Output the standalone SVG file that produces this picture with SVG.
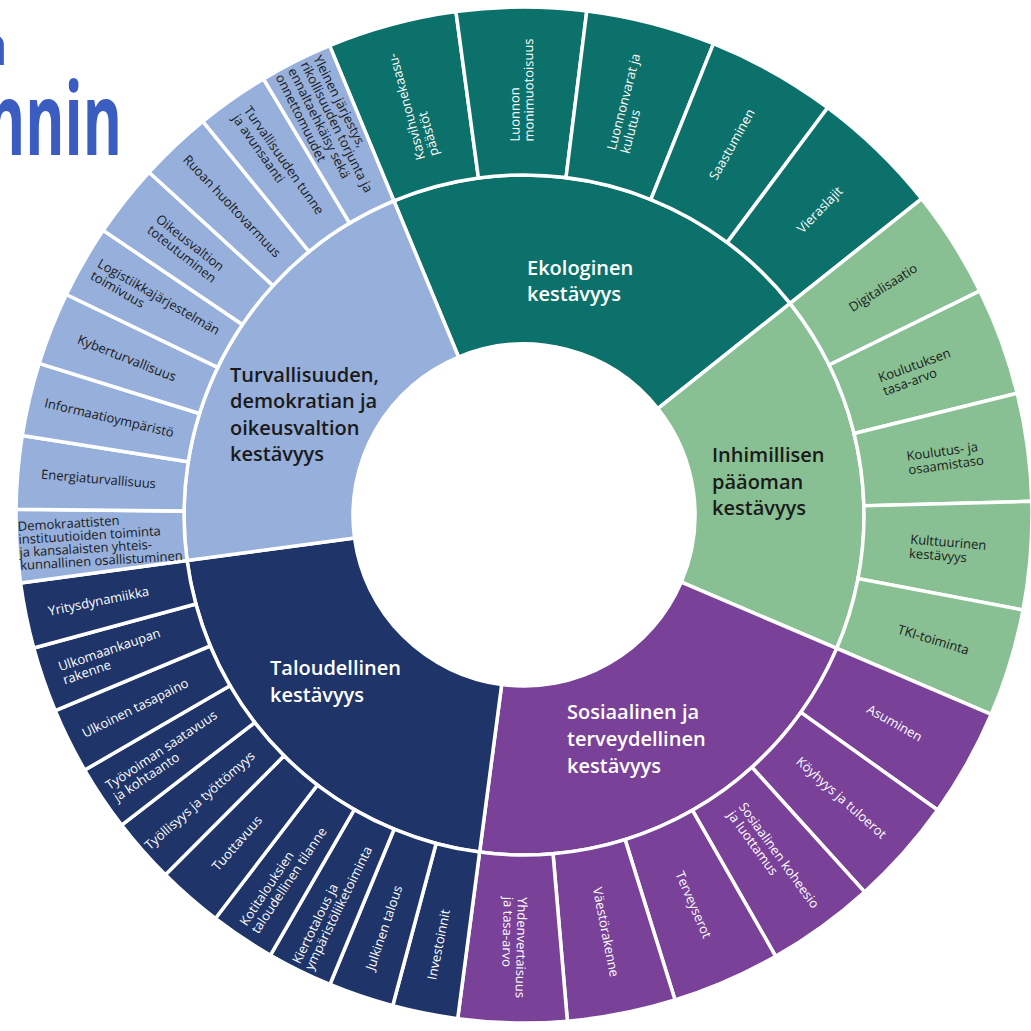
<svg xmlns="http://www.w3.org/2000/svg" xmlns:xlink="http://www.w3.org/1999/xlink" width="1031" height="1031" viewBox="0 0 1031 1031">
<style>
.seg{stroke:#fff;stroke-width:3.5;stroke-linejoin:miter}
.ek{fill:#0d716b}.inh{fill:#88c093}.sos{fill:#7a4198}.tal{fill:#1f3468}.tur{fill:#96afdb}
.t{font-family:"Open Sans","Noto Sans","DejaVu Sans",sans-serif;font-size:13px}
.w{fill:#ffffff}.b{fill:#1a1a1a}
.m{text-anchor:middle}
.h{font-family:"Open Sans","Noto Sans","DejaVu Sans",sans-serif;font-size:20px;font-weight:600}
.title{font-family:"Open Sans","Noto Sans","DejaVu Sans",sans-serif;font-weight:700;fill:#3b5cc0}
</style>
<defs>
<path id="ekI" d="M0,-340 A340,340 0 0 1 326.83,-93.72 L164.38,-47.13 A171,171 0 0 0 0,-171 Z"/>
<path id="inI" d="M0,-340 A340,340 0 0 1 299.08,-161.71 L150.42,-81.33 A171,171 0 0 0 0,-171 Z"/>
<path id="soI" d="M0,-340 A340,340 0 0 1 327.47,-91.43 L164.70,-45.99 A171,171 0 0 0 0,-171 Z"/>
<path id="taI" d="M0,-340 A340,340 0 0 1 328.11,-89.14 L165.02,-44.83 A171,171 0 0 0 0,-171 Z"/>
<path id="tuI" d="M0,-340 A340,340 0 0 1 328.72,-86.85 L165.33,-43.68 A171,171 0 0 0 0,-171 Z"/>
<path id="ekL" d="M0,-508 A508,508 0 0 1 129.77,-491.14 L86.85,-328.72 A340,340 0 0 0 0,-340 Z"/>
<path id="inL" d="M0,-508 A508,508 0 0 1 108.39,-496.30 L72.55,-332.17 A340,340 0 0 0 0,-340 Z"/>
<path id="soL" d="M0,-508 A508,508 0 0 1 109.09,-496.15 L73.01,-332.07 A340,340 0 0 0 0,-340 Z"/>
<path id="taL" d="M0,-508 A508,508 0 0 1 66.13,-503.68 L44.26,-337.11 A340,340 0 0 0 0,-340 Z"/>
<path id="tuL" d="M0,-508 A508,508 0 0 1 73.82,-502.61 L49.41,-336.39 A340,340 0 0 0 0,-340 Z"/>
<clipPath id="clipDemo"><path d="M0,-508 A508,508 0 0 1 73.82,-502.61 L49.41,-336.39 A340,340 0 0 0 0,-340 Z" transform="translate(524 515) rotate(262.3)"/></clipPath>
</defs>
<rect width="1031" height="1031" fill="#fff"/>

<g id="title">
<text class="title" x="8" y="65" font-size="55" text-anchor="end">a</text>
<text class="title" x="-14" y="155" font-size="100" textLength="136" lengthAdjust="spacingAndGlyphs">nnin</text>
</g>

<g id="connectors"/>

<!-- Ekologinen -->
<g id="ekologinen">
<use href="#ekI" class="seg ek" transform="translate(524 515) rotate(-22.5)"/>
<text class="h w" x="527" y="274.5">Ekologinen<tspan x="527" y="300.5">kestävyys</tspan></text>
</g>
<g id="ek-kasvihuone"><use href="#ekL" class="seg ek" transform="translate(524 515) rotate(-22.5)"/>
<text class="t w" transform="translate(524 515) rotate(-15.1) translate(0 -425) rotate(-90)"><tspan x="-55" y="-2.5">Kasvihuonekaasu-</tspan><tspan x="-55" y="11.5">päästöt</tspan></text></g>
<g id="ek-luonnon"><use href="#ekL" class="seg ek" transform="translate(524 515) rotate(-7.7)"/>
<text class="t w" transform="translate(524 515) rotate(-0.3) translate(0 -425) rotate(-90)"><tspan x="-51.5" y="-2.5">Luonnon</tspan><tspan x="-51.5" y="11.5">monimuotoisuus</tspan></text></g>
<g id="ek-luonnonvarat"><use href="#ekL" class="seg ek" transform="translate(524 515) rotate(7.1)"/>
<text class="t w" transform="translate(524 515) rotate(14.5) translate(0 -425) rotate(-90)"><tspan x="-49.5" y="-2.5">Luonnonvarat ja</tspan><tspan x="-49.5" y="11.5">kulutus</tspan></text></g>
<g id="ek-saastuminen"><use href="#ekL" class="seg ek" transform="translate(524 515) rotate(21.9)"/>
<text class="t w m" transform="translate(524 515) rotate(29.3) translate(0 -425) rotate(-90)" y="4.5">Saastuminen</text></g>
<g id="ek-vieraslajit"><use href="#ekL" class="seg ek" transform="translate(524 515) rotate(36.7)"/>
<text class="t w m" transform="translate(524 515) rotate(44.1) translate(0 -425) rotate(-90)" y="4.5">Vieraslajit</text></g>

<!-- Inhimillisen -->
<g id="inhimillisen">
<use href="#inI" class="seg inh" transform="translate(524 515) rotate(51.5)"/>
<text class="h b" x="712" y="462">Inhimillisen<tspan x="712" y="488.5">pääoman</tspan><tspan x="712" y="515">kestävyys</tspan></text>
</g>
<g id="in-digitalisaatio"><use href="#inL" class="seg inh" transform="translate(524 515) rotate(51.5)"/>
<text class="t b m" transform="translate(524 515) rotate(57.66) translate(0 -425) rotate(-90)" y="4.5">Digitalisaatio</text></g>
<g id="in-koulutuksen"><use href="#inL" class="seg inh" transform="translate(524 515) rotate(63.82)"/>
<text class="t b" transform="translate(524 515) rotate(69.98) translate(0 -418) rotate(-90)"><tspan x="-38" y="-2.5">Koulutuksen</tspan><tspan x="-38" y="11.5">tasa-arvo</tspan></text></g>
<g id="in-koulutus"><use href="#inL" class="seg inh" transform="translate(524 515) rotate(76.14)"/>
<text class="t b" transform="translate(524 515) rotate(82.3) translate(0 -425) rotate(-90)"><tspan x="-38" y="-2.5">Koulutus- ja</tspan><tspan x="-38" y="11.5">osaamistaso</tspan></text></g>
<g id="in-kulttuurinen"><use href="#inL" class="seg inh" transform="translate(524 515) rotate(88.46)"/>
<text class="t b" transform="translate(524 515) rotate(94.62) translate(0 -425) rotate(-90)"><tspan x="-38" y="-2.5">Kulttuurinen</tspan><tspan x="-38" y="11.5">kestävyys</tspan></text></g>
<g id="in-tki"><use href="#inL" class="seg inh" transform="translate(524 515) rotate(100.78)"/>
<text class="t b m" transform="translate(524 515) rotate(106.94) translate(0 -428) rotate(-90)" y="4.5">TKI-toiminta</text></g>

<!-- Sosiaalinen -->
<g id="sosiaalinen">
<use href="#soI" class="seg sos" transform="translate(524 515) rotate(113.1)"/>
<text class="h w" x="567" y="719">Sosiaalinen ja<tspan x="567" y="746">terveydellinen</tspan><tspan x="567" y="773">kestävyys</tspan></text>
</g>
<g id="so-asuminen"><use href="#soL" class="seg sos" transform="translate(524 515) rotate(113.1)"/>
<text class="t w m" transform="translate(524 515) rotate(119.3) translate(0 -425) rotate(-90)" y="4.5">Asuminen</text></g>
<g id="so-koyhyys"><use href="#soL" class="seg sos" transform="translate(524 515) rotate(125.5)"/>
<text class="t w m" transform="translate(524 515) rotate(131.7) translate(0 -425) rotate(-90)" y="4.5">Köyhyys ja tuloerot</text></g>
<g id="so-koheesio"><use href="#soL" class="seg sos" transform="translate(524 515) rotate(137.9)"/>
<text class="t w" transform="translate(524 515) rotate(144.1) translate(0 -425) rotate(-90)"><tspan x="-63" y="-2.5">Sosiaalinen koheesio</tspan><tspan x="-63" y="11.5">ja luottamus</tspan></text></g>
<g id="so-terveyserot"><use href="#soL" class="seg sos" transform="translate(524 515) rotate(150.3)"/>
<text class="t w m" transform="translate(524 515) rotate(156.5) translate(0 -425) rotate(-90)" y="4.5">Terveyserot</text></g>
<g id="so-vaestorakenne"><use href="#soL" class="seg sos" transform="translate(524 515) rotate(162.7)"/>
<text class="t w m" transform="translate(524 515) rotate(168.9) translate(0 -425) rotate(-90)" y="4.5">Väestörakenne</text></g>
<g id="so-yhdenvertaisuus"><use href="#soL" class="seg sos" transform="translate(524 515) rotate(175.1)"/>
<text class="t w" transform="translate(524 515) rotate(181.3) translate(0 -432) rotate(-90)"><tspan x="-50" y="-2.5">Yhdenvertaisuus</tspan><tspan x="-50" y="11.5">ja tasa-arvo</tspan></text></g>

<!-- Taloudellinen -->
<g id="taloudellinen">
<use href="#taI" class="seg tal" transform="translate(524 515) rotate(187.5)"/>
<text class="h w" x="270" y="675">Taloudellinen<tspan x="270" y="701.5">kestävyys</tspan></text>
</g>
<g id="ta-investoinnit"><use href="#taL" class="seg tal" transform="translate(524 515) rotate(187.5)"/>
<text class="t w m" transform="translate(524 515) rotate(191.24) translate(0 -438) rotate(90)" y="4.5">Investoinnit</text></g>
<g id="ta-julkinen"><use href="#taL" class="seg tal" transform="translate(524 515) rotate(194.98)"/>
<text class="t w m" transform="translate(524 515) rotate(198.72) translate(0 -436) rotate(90)" y="4.5">Julkinen talous</text></g>
<g id="ta-kiertotalous"><use href="#taL" class="seg tal" transform="translate(524 515) rotate(202.46)"/>
<text class="t w" transform="translate(524 515) rotate(206.2) translate(0 -432) rotate(90)"><tspan x="-70.5" y="-2.5">Kiertotalous ja</tspan><tspan x="-70.5" y="11.5">ympäristöliiketoiminta</tspan></text></g>
<g id="ta-kotitalouksien"><use href="#taL" class="seg tal" transform="translate(524 515) rotate(209.94)"/>
<text class="t w" transform="translate(524 515) rotate(213.68) translate(0 -434) rotate(90)"><tspan x="-62.5" y="-2.5">Kotitalouksien</tspan><tspan x="-62.5" y="11.5">taloudellinen tilanne</tspan></text></g>
<g id="ta-tuottavuus"><use href="#taL" class="seg tal" transform="translate(524 515) rotate(217.42)"/>
<text class="t w m" transform="translate(524 515) rotate(221.16) translate(0 -436) rotate(90)" y="4.5">Tuottavuus</text></g>
<g id="ta-tyollisyys"><use href="#taL" class="seg tal" transform="translate(524 515) rotate(224.9)"/>
<text class="t w m" transform="translate(524 515) rotate(228.64) translate(0 -432) rotate(90)" y="4.5">Työllisyys ja työttömyys</text></g>
<g id="ta-tyovoima"><use href="#taL" class="seg tal" transform="translate(524 515) rotate(232.38)"/>
<text class="t w" transform="translate(524 515) rotate(236.12) translate(0 -432) rotate(90)"><tspan x="-65.5" y="-2.5">Työvoiman saatavuus</tspan><tspan x="-65.5" y="11.5">ja kohtaanto</tspan></text></g>
<g id="ta-ulkoinen"><use href="#taL" class="seg tal" transform="translate(524 515) rotate(239.86)"/>
<text class="t w m" transform="translate(524 515) rotate(243.6) translate(0 -434) rotate(90)" y="4.5">Ulkoinen tasapaino</text></g>
<g id="ta-ulkomaankauppa"><use href="#taL" class="seg tal" transform="translate(524 515) rotate(247.34)"/>
<text class="t w" transform="translate(524 515) rotate(251.08) translate(0 -436) rotate(90)"><tspan x="-53.5" y="-2.5">Ulkomaankaupan</tspan><tspan x="-53.5" y="11.5">rakenne</tspan></text></g>
<g id="ta-yritysdynamiikka"><use href="#taL" class="seg tal" transform="translate(524 515) rotate(254.82)"/>
<text class="t w m" transform="translate(524 515) rotate(258.56) translate(0 -434) rotate(90)" y="4.5">Yritysdynamiikka</text></g>

<!-- Turvallisuuden -->
<g id="turvallisuuden">
<use href="#tuI" class="seg tur" transform="translate(524 515) rotate(262.3)"/>
<text class="h b" x="230" y="381.5">Turvallisuuden,<tspan x="230" y="408">demokratian ja</tspan><tspan x="230" y="434.5">oikeusvaltion</tspan><tspan x="230" y="461">kestävyys</tspan></text>
</g>
<g id="tu-demokraattisten"><use href="#tuL" class="seg tur" transform="translate(524 515) rotate(262.3)"/>
<g clip-path="url(#clipDemo)"><text class="t b" transform="translate(524 515) rotate(266.48) translate(0 -425) rotate(90)"><tspan x="-81" y="-15">Demokraattisten</tspan><tspan x="-81" y="-2">instituutioiden toiminta</tspan><tspan x="-81" y="11">ja kansalaisten yhteis-</tspan><tspan x="-81" y="24">kunnallinen osallistuminen</tspan></text></g></g>
<g id="tu-energia"><use href="#tuL" class="seg tur" transform="translate(524 515) rotate(270.656)"/>
<text class="t b m" transform="translate(524 515) rotate(274.83) translate(0 -427) rotate(90)" y="4.5">Energiaturvallisuus</text></g>
<g id="tu-informaatio"><use href="#tuL" class="seg tur" transform="translate(524 515) rotate(279.011)"/>
<text class="t b m" transform="translate(524 515) rotate(283.19) translate(0 -426) rotate(90)" y="4.5">Informaatioympäristö</text></g>
<g id="tu-kyber"><use href="#tuL" class="seg tur" transform="translate(524 515) rotate(287.367)"/>
<text class="t b m" transform="translate(524 515) rotate(291.55) translate(0 -427) rotate(90)" y="4.5">Kyberturvallisuus</text></g>
<g id="tu-logistiikka"><use href="#tuL" class="seg tur" transform="translate(524 515) rotate(295.722)"/>
<text class="t b" transform="translate(524 515) rotate(299.9) translate(0 -425) rotate(90)"><tspan x="-69.5" y="-2.5">Logistiikkajärjestelmän</tspan><tspan x="-69.5" y="11.5">toimivuus</tspan></text></g>
<g id="tu-oikeusvaltio"><use href="#tuL" class="seg tur" transform="translate(524 515) rotate(304.078)"/>
<text class="t b" transform="translate(524 515) rotate(308.26) translate(0 -428) rotate(90)"><tspan x="-44" y="-2.5">Oikeusvaltion</tspan><tspan x="-44" y="11.5">toteutuminen</tspan></text></g>
<g id="tu-ruoka"><use href="#tuL" class="seg tur" transform="translate(524 515) rotate(312.433)"/>
<text class="t b m" transform="translate(524 515) rotate(316.61) translate(0 -425) rotate(90)" y="4.5">Ruoan huoltovarmuus</text></g>
<g id="tu-turvallisuudentunne"><use href="#tuL" class="seg tur" transform="translate(524 515) rotate(320.789)"/>
<text class="t b" transform="translate(524 515) rotate(324.97) translate(0 -428) rotate(90)"><tspan x="-64.5" y="-2.5">Turvallisuuden tunne</tspan><tspan x="-64.5" y="11.5">ja avunsaanti</tspan></text></g>
<g id="tu-yleinen"><use href="#tuL" class="seg tur" transform="translate(524 515) rotate(329.144)"/>
<text class="t b" transform="translate(524 515) rotate(333.32) translate(0 -428) rotate(90)"><tspan x="-75" y="-16.5">Yleinen järjestys,</tspan><tspan x="-75" y="-2.5">rikollisuuden torjunta ja</tspan><tspan x="-75" y="11.5">ennaltaehkäisy sekä</tspan><tspan x="-75" y="25.5">onnettomuudet</tspan></text></g>
</svg>
